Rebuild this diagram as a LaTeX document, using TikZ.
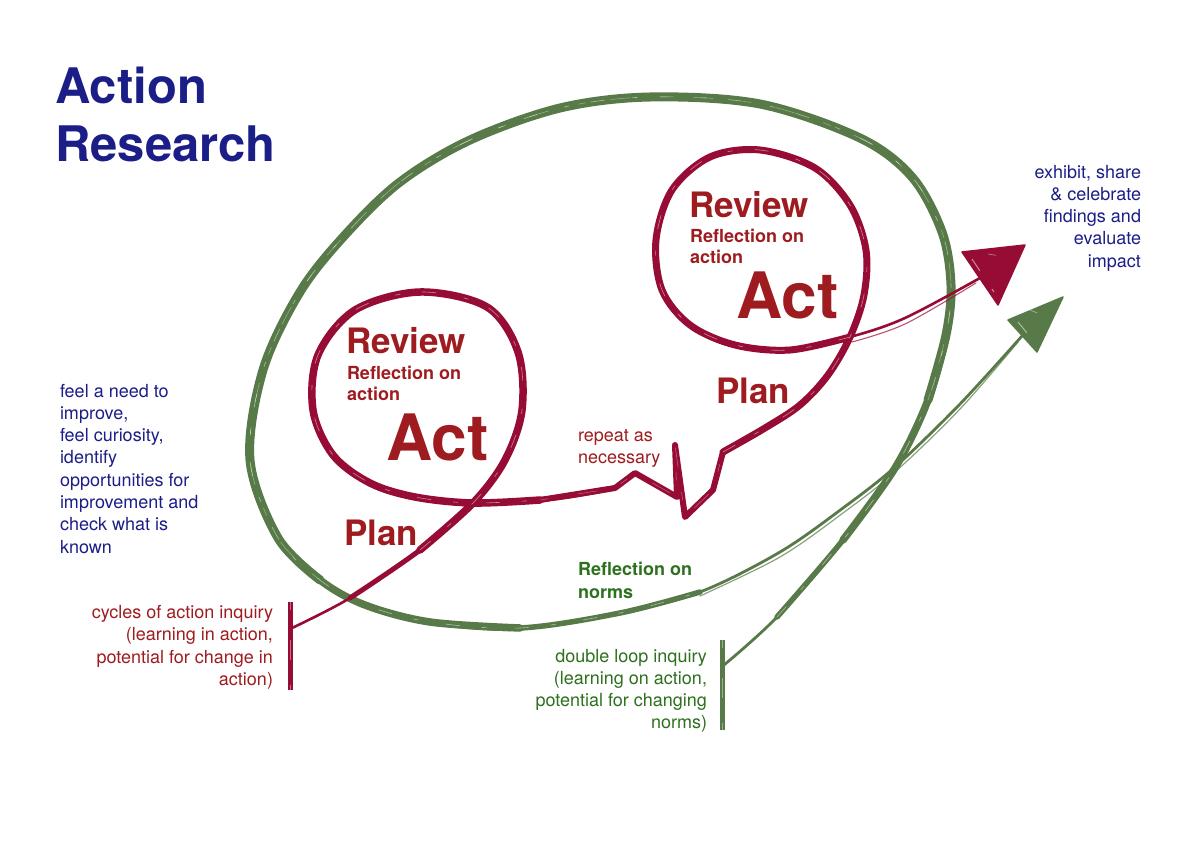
\documentclass[tikz,border=0pt]{standalone}
\usepackage{fontspec}
\setmainfont{TeX Gyre Heros}
\definecolor{navy}{RGB}{28,30,135}
\definecolor{txtred}{RGB}{158,28,32}
\definecolor{loopred}{RGB}{150,12,52}
\definecolor{loopgreen}{RGB}{88,122,72}
\definecolor{txtgreen}{RGB}{45,112,30}
\tikzset{
  px/.style={x=1pt,y=-1pt},
  txt/.style={inner sep=0pt, outer sep=0pt, font=\fontsize{18}{22.3}\selectfont},
  txtb/.style={inner sep=0pt, outer sep=0pt, font=\fontsize{18}{21.5}\selectfont\bfseries},
  titlelbl/.style={inner sep=0pt, font=\fontsize{49}{58}\selectfont\bfseries, text=navy, align=left},
  stagelbl/.style={inner sep=0pt, font=\fontsize{35}{40}\selectfont\bfseries, text=txtred},
  actlbl/.style={inner sep=0pt, font=\fontsize{64}{70}\selectfont\bfseries, text=txtred},
  redline/.style={draw=loopred, line cap=round, line join=round},
  greenline/.style={draw=loopgreen, line cap=round, line join=round},
  streak/.style={draw=white, line width=0.6pt, dash pattern=on 14pt off 22pt on 5pt off 28pt, opacity=0.5, line cap=butt},
  streakb/.style={draw=white, line width=0.5pt, dash pattern=on 8pt off 30pt on 20pt off 25pt, opacity=0.4, line cap=butt},
  sm/.style={smooth, tension=0.55},
  bar/.style={inner sep=0pt, minimum width=5pt},
}
\begin{document}
\begin{tikzpicture}[px]
\fill[white] (0,0) rectangle (1200,848);
\useasboundingbox (0,0) rectangle (1200,848);

% end points
\coordinate (gs) at (724,665);
\coordinate (ge) at (1022,336);
\coordinate (rs) at (292,628);
\coordinate (re) at (980,278);
\coordinate (rtip) at (1025,245);
\coordinate (gtip) at (1063,297);

% markers
\node[bar, fill=loopred, minimum height=88pt] (mk1) at (290,646) {};
\node[bar, fill=loopgreen, minimum height=90pt] (mk2) at (722,685) {};
\draw[streakb] (mk1.north) -- (mk1.south);
\draw[streakb] (mk2.north) -- (mk2.south);

% ---------- green loop ----------
\draw[greenline, line width=2.8pt] plot[sm] coordinates {(gs) (777,617) (843,540) (895,468) (928,400) (946,335) (951,285) (942,232) (912,177) (860,138) (760,104) (650,97) (560,108) (470,140) (400,182) (345,235) (300,292) (263,370) (250,460) (278,538) (320,580) (365,605) (430,622) (520,628) (620,613) (700,592) (780,552) (843,508) (895,467) (960,404) (ge)};
\draw[greenline, line width=1.2pt, opacity=0.7] plot[sm] coordinates {(700,596) (780,557) (843,513) (895,472) (960,409) (1018,342)};
\draw[greenline, line width=5.5pt, save path=\gA] plot[sm] coordinates {(777,617) (843,540) (895,468) (928,400) (946,335) (951,285) (942,232) (912,177) (860,138) (760,104) (650,97) (560,108) (470,140) (400,182) (345,235) (300,292) (263,370) (250,460) (278,538) (320,580) (365,605) (430,622) (520,628) (620,613) (700,592)};
\draw[greenline, line width=7.5pt] plot[sm] coordinates {(843,540) (895,468) (928,400) (946,335) (951,285) (942,232) (912,177) (860,138) (760,104) (650,97) (560,108) (470,140) (400,182) (345,235) (300,292) (263,370) (250,460) (278,538) (320,580) (365,605) (430,622) (520,628)};
\draw[greenline, line width=9pt, save path=\gC] plot[sm] coordinates {(928,400) (946,335) (951,285) (942,232) (912,177) (860,138) (760,104) (650,97) (560,108) (470,140) (400,182) (345,235) (300,292) (263,370) (250,460) (278,538) (320,580)};
\draw[streak, use path=\gA];
\draw[streakb, use path=\gC];

% green arrow head
\fill[loopgreen] (1008,320) -- (gtip) -- (1037,352) -- cycle;
\draw[greenline, line width=1.5pt] (1008,320) -- (gtip) -- (1037,352) -- cycle;
\draw[streak, line width=1pt] (1018,322) -- (1036,344);
\draw[streakb, line width=0.8pt] (1030,310) -- (1050,318);

% ---------- red path ----------
\draw[redline, line width=2.6pt] plot[sm] coordinates {(rs) (350,598) (420,550) (473,503) (505,460) (522,410) (518,352) (487,307) (420,292) (355,310) (318,355) (313,410) (333,455) (370,483) (415,497) (473,503) (555,498) (615,488)}
  -- (635,473) -- (677,497) -- (675,445) -- (685,517) -- (713,490) -- (723,452)
  -- plot[sm] coordinates {(723,452) (765,428) (800,405) (828,375) (850,337) (864,295) (866,250) (850,205) (815,168) (760,150) (710,157) (672,190) (656,240) (662,290) (690,325) (735,345) (790,350) (850,337) (905,318) (re)};
\draw[redline, line width=1.1pt, opacity=0.7] plot[sm] coordinates {(852,342) (905,324) (976,283)};
\draw[redline, line width=5pt] plot[sm] coordinates {(350,598) (420,550) (473,503) (505,460) (522,410) (518,352) (487,307) (420,292) (355,310) (318,355) (313,410) (333,455) (370,483) (415,497) (473,503) (555,498) (615,488)};
\draw[redline, line width=7.5pt, save path=\rA] plot[sm] coordinates {(420,550) (473,503) (505,460) (522,410) (518,352) (487,307) (420,292) (355,310) (318,355) (313,410) (333,455) (370,483) (415,497) (473,503) (540,500)};
\draw[redline, line width=6pt, save path=\rZ] plot[sm] coordinates {(540,500) (615,488)} -- (635,473) -- (677,497) -- (675,445) -- (685,517) -- (713,490) -- (723,452);
\draw[redline, line width=7pt, save path=\rB] plot[sm] coordinates {(723,452) (765,428) (800,405) (828,375) (850,337) (864,295) (866,250) (850,205) (815,168) (760,150) (710,157) (672,190) (656,240) (662,290) (690,325) (735,345) (790,350) (850,337)};
\draw[streak, use path=\rA];
\draw[streakb, use path=\rZ];
\draw[streak, use path=\rB];

% red arrow head
\fill[loopred] (962,252) -- (rtip) -- (998,305) -- cycle;
\draw[redline, line width=1.5pt] (962,252) -- (rtip) -- (998,305) -- cycle;
\draw[streak, line width=1pt] (972,259) -- (994,292);
\draw[streakb, line width=0.8pt] (988,254) -- (1012,258);

% ---------- texts (base anchor = baseline of last line) ----------
\node[titlelbl, anchor=base west] (title) at (55,161) {Action\\Research};
\node[txt, text=navy, align=left, anchor=base west] (need) at (60,553.1) {feel a need to\\improve,\\feel curiosity,\\identify\\opportunities for\\improvement and\\check what is\\known};
\node[txt, text=txtred, align=right, anchor=base east] (cycles) at (273,685.4) {cycles of action inquiry\\(learning in action,\\potential for change in\\action)};
\node[txt, text=txtgreen, align=right, anchor=base east] (double) at (707,728.9) {double loop inquiry\\(learning on action,\\potential for changing\\norms)};
\node[txtb, text=txtgreen, align=left, anchor=base west, font=\fontsize{18}{23.5}\selectfont\bfseries] (norms) at (578,598.5) {Reflection on\\norms};
\node[txt, text=txtred, align=left, anchor=base west] (repeat) at (578,463.3) {repeat as\\necessary};
\node[txt, text=navy, align=right, anchor=base east] (exhibit) at (1141,267.2) {exhibit, share\\\& celebrate\\findings and\\evaluate\\impact};

\node[stagelbl, anchor=base west] (rev1) at (346,353) {Review};
\node[txtb, text=txtred, align=left, anchor=base west] (refl1) at (347,400.5) {Reflection on\\action};
\node[actlbl, anchor=base west] (act1) at (386,460) {Act};
\node[stagelbl, anchor=base west] (plan1) at (344,545) {Plan};

\node[stagelbl, anchor=base west] (rev2) at (689,217) {Review};
\node[txtb, text=txtred, align=left, anchor=base west] (refl2) at (690,263.5) {Reflection on\\action};
\node[actlbl, anchor=base west] (act2) at (736,318) {Act};
\node[stagelbl, anchor=base west] (plan2) at (716,403) {Plan};
\end{tikzpicture}
\end{document}
